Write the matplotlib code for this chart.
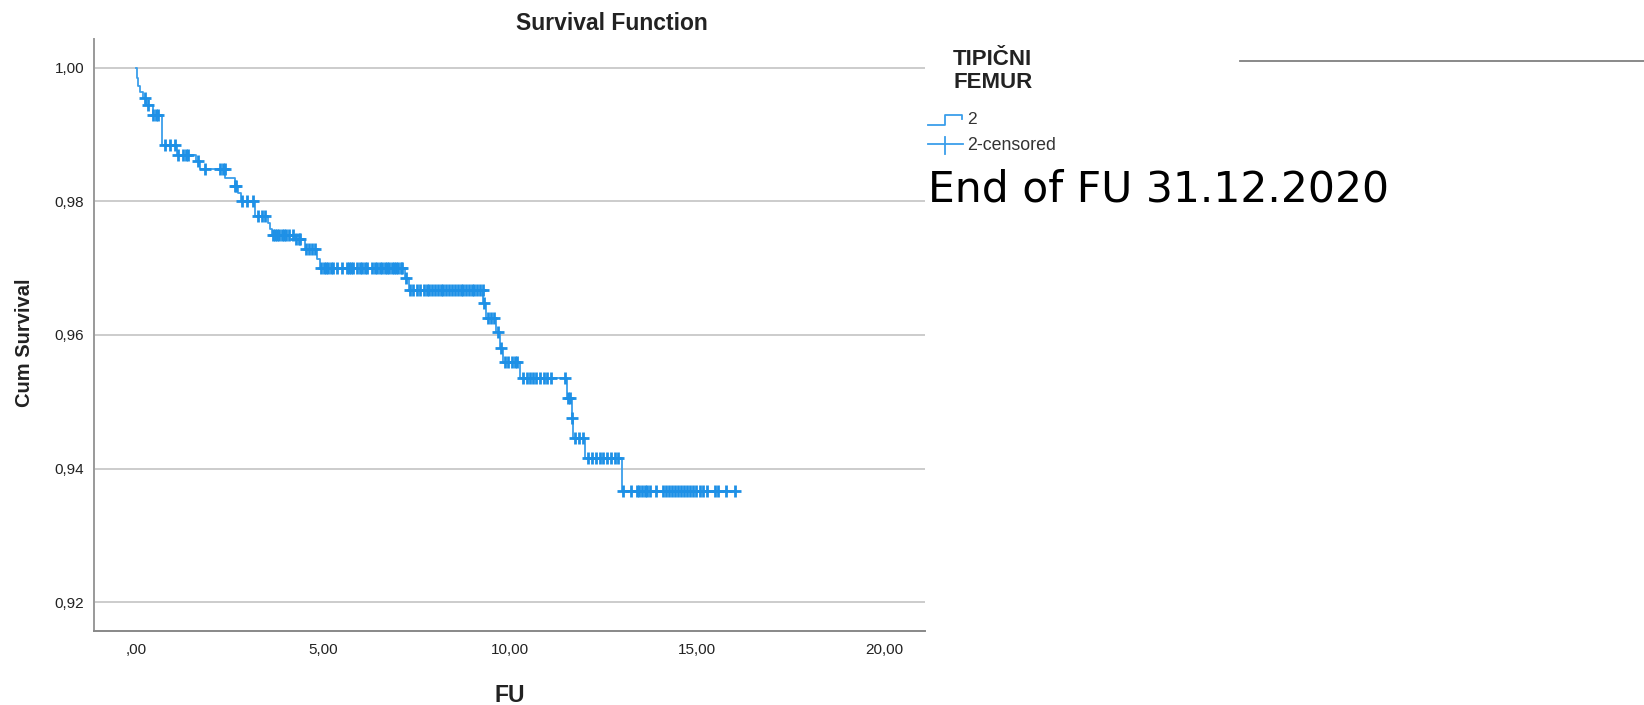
import matplotlib
matplotlib.use("Agg")
import matplotlib.pyplot as plt
from matplotlib.lines import Line2D
import numpy as np

W, H = 1644, 705

# Kaplan-Meier steps: event time -> survival after it
event_times = [0.02, 0.06, 0.12, 0.19, 0.28, 0.45, 0.69, 1.09, 1.62, 1.71,
               2.38, 2.65, 2.72, 2.82, 3.18, 3.53, 3.58, 3.64, 4.25, 4.52,
               4.83, 4.92, 7.19, 7.30, 9.29, 9.37, 9.64, 9.73, 9.82, 10.27,
               11.52, 11.65, 11.69, 12.00, 12.99]
surv_after = [0.9985, 0.9972, 0.9963, 0.9955, 0.9944, 0.9930, 0.9885, 0.9870, 0.9860, 0.9848,
              0.9835, 0.9823, 0.9813, 0.9800, 0.9778, 0.9768, 0.9758, 0.9750, 0.9743, 0.9728,
              0.9714, 0.9700, 0.9685, 0.9668, 0.9648, 0.9625, 0.9605, 0.9580, 0.9560, 0.9535,
              0.9506, 0.9476, 0.9446, 0.9416, 0.9366]

# censored follow-up times (the "+" marks)
censor_times = [0.24, 0.32, 0.47, 0.53, 0.59, 0.78, 0.90, 1.04, 1.12, 1.25, 1.33, 1.39,
                1.66, 1.84, 2.25, 2.33, 2.37, 2.66, 2.69, 2.83, 2.96, 3.13, 3.26, 3.36,
                3.45, 3.66, 3.72, 3.78, 3.84, 3.90, 3.96, 4.02, 4.10, 4.20, 4.28, 4.35,
                4.40, 4.55, 4.62, 4.72, 4.80,
                4.95, 5.02, 5.08, 5.15, 5.22, 5.27, 5.37, 5.51, 5.64, 5.70, 5.76, 5.80,
                5.91, 5.99, 6.05, 6.12, 6.18, 6.31, 6.39, 6.45, 6.52, 6.58, 6.66, 6.72,
                6.78, 6.84, 6.90, 6.96, 7.02, 7.08, 7.12, 7.22,
                7.33, 7.40, 7.52, 7.60, 7.70, 7.78, 7.85, 7.92, 8.00, 8.08, 8.15, 8.22,
                8.30, 8.38, 8.45, 8.52, 8.60, 8.68, 8.75, 8.82, 8.90, 8.98, 9.05, 9.12,
                9.20, 9.27, 9.31, 9.41, 9.50, 9.58, 9.67, 9.76,
                9.87, 9.95, 10.05, 10.15, 10.20, 10.35, 10.45, 10.55, 10.62, 10.70,
                10.80, 10.90, 11.00, 11.10, 11.47, 11.55, 11.62, 11.67, 11.74, 11.85,
                11.95, 12.10, 12.20, 12.30, 12.40, 12.50, 12.60, 12.70, 12.80, 12.90,
                13.03, 13.25, 13.39, 13.46, 13.53, 13.60, 13.67, 13.74, 13.92, 14.10,
                14.18, 14.26, 14.34, 14.42, 14.50, 14.58, 14.66, 14.74, 14.82, 14.90,
                14.98, 15.08, 15.16, 15.26, 15.48, 15.57, 15.79, 16.02]

xticks = [0, 5, 10, 15, 20]
xtick_labels = [",00", "5,00", "10,00", "15,00", "20,00"]
yticks = [0.92, 0.94, 0.96, 0.98, 1.00]
ytick_labels = ["0,92", "0,94", "0,96", "0,98", "1,00"]

BLUE = "#1e90e6"
LINE_BLUE = "#3a9eea"
SPSS_FONT = "Liberation Sans"
DARK = "#222222"


def fx(px):
    return px / W


def fy(py):
    return 1 - py / H


fig = plt.figure(figsize=(W / 100, H / 100), dpi=100)
ax = fig.add_axes([fx(94), fy(631), fx(925) - fx(94), fy(39) - fy(631)])

# step curve, starting at 1 and running to the last censored case
t_all = np.concatenate([[0.0], event_times, [censor_times[-1]]])
s_all = np.concatenate([[1.0], surv_after, [surv_after[-1]]])
ax.step(t_all, s_all, where="post", color=LINE_BLUE, lw=1.3, zorder=3)

# censored marks sit on the curve
idx = np.searchsorted(event_times, censor_times, side="right") - 1
s_cens = np.where(idx >= 0, np.array(surv_after)[np.clip(idx, 0, None)], 1.0)
ax.plot(censor_times, s_cens, ls="none", marker="+", ms=8, mew=2.0,
        color=BLUE, zorder=4)

ax.set_xlim(-1.12, 21.1)
ax.set_ylim(0.9157, 1.0043)
ax.set_xticks(xticks)
ax.set_xticklabels(xtick_labels)
ax.set_yticks(yticks)
ax.set_yticklabels(ytick_labels)
ax.tick_params(length=0, labelsize=11, colors=DARK, pad=7)
ax.tick_params(axis="x", pad=9)
for lab in ax.get_xticklabels() + ax.get_yticklabels():
    lab.set_family(SPSS_FONT)

ax.grid(axis="y", color="#cccccc", lw=1.4)
ax.set_axisbelow(True)
for side in ("top", "right"):
    ax.spines[side].set_visible(False)
ax.spines["left"].set_color("#999999")
ax.spines["bottom"].set_color("#888888")
ax.spines["left"].set_linewidth(1.4)
ax.spines["bottom"].set_linewidth(1.4)

# titles
fig.text(fx(612), fy(23), "Survival Function", ha="center", va="center",
         fontsize=16.5, fontweight="bold", family=SPSS_FONT, color=DARK)
fig.text(fx(24), fy(343), "Cum Survival", ha="center", va="center", rotation=90,
         fontsize=14.5, fontweight="bold", family=SPSS_FONT, color=DARK)
fig.text(fx(510), fy(695), "FU", ha="center", va="center",
         fontsize=16.5, fontweight="bold", family=SPSS_FONT, color=DARK)

# legend block
fig.text(fx(953), fy(49), "TIPIČNI\nFEMUR", ha="left", va="top", linespacing=1.1,
         fontsize=16, fontweight="bold", family=SPSS_FONT, color=DARK)
fig.add_artist(Line2D([fx(928), fx(945), fx(945), fx(962), fx(962)],
                      [fy(125), fy(125), fy(115), fy(115), fy(119)],
                      color=LINE_BLUE, lw=1.3, transform=fig.transFigure))
fig.text(fx(967), fy(120), "2", ha="left", va="center",
         fontsize=12.5, family=SPSS_FONT, color="#333333")
fig.add_artist(Line2D([fx(928), fx(963)], [fy(144), fy(144)],
                      color=LINE_BLUE, lw=1.3, transform=fig.transFigure))
fig.add_artist(Line2D([fx(945), fx(945)], [fy(137), fy(154)],
                      color=LINE_BLUE, lw=1.3, transform=fig.transFigure))
fig.text(fx(967), fy(146), "2-censored", ha="left", va="center",
         fontsize=12.8, family=SPSS_FONT, color="#333333")

# slide annotations
fig.text(fx(928), fy(201), "End of FU 31.12.2020", ha="left", va="baseline",
         fontsize=30.6, family="DejaVu Sans", color="black")
fig.add_artist(Line2D([fx(1240), fx(1644)], [fy(61), fy(61)],
                      color="#808080", lw=1.3, transform=fig.transFigure))

fig.savefig("out.png", dpi=100)
